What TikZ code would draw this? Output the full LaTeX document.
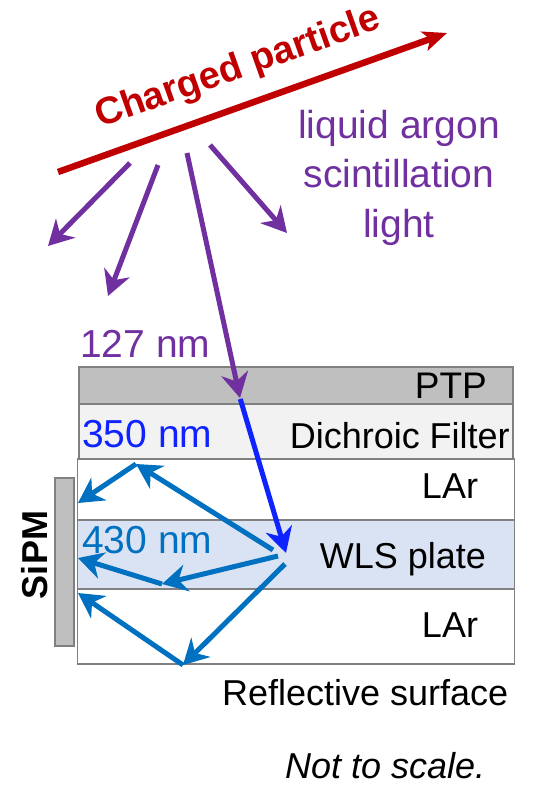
\documentclass[tikz,border=0pt]{standalone}
\usepackage{fontspec}
\setmainfont{Liberation Sans}
\usetikzlibrary{arrows.meta, positioning}
\definecolor{ptpgray}{RGB}{191,191,191}
\definecolor{edgegray}{RGB}{128,128,128}
\definecolor{filtergray}{RGB}{242,242,242}
\definecolor{wlsblue}{RGB}{218,227,243}
\definecolor{partred}{RGB}{192,0,0}
\definecolor{scintpurple}{RGB}{112,48,160}
\definecolor{uvblue}{RGB}{15,35,255}
\definecolor{visblue}{RGB}{0,112,192}

\begin{document}
\begin{tikzpicture}[
  x=1pt, y=-1pt,
  layer/.style   = {rectangle, draw=edgegray, line width=1.5pt, inner sep=0pt, outer sep=0pt},
  txt/.style     = {inner sep=0pt, font=\fontsize{36}{40}\selectfont, text=black},
  lbl/.style     = {inner sep=0pt, font=\fontsize{39}{49.5}\selectfont},
  prp/.style     = {-{Stealth[length=25pt, width=27pt, inset=8pt]}, line width=5pt, color=scintpurple},
  uvarr/.style   = {-{Stealth[length=25pt, width=27pt, inset=8pt]}, line width=5pt, color=uvblue},
  visarr/.style  = {-{Stealth[length=25pt, width=27pt, inset=8pt]}, line width=5pt, color=visblue},
  track/.style   = {-{Stealth[length=24pt, width=20pt, inset=6pt]}, line width=6.5pt, color=partred},
]
\useasboundingbox (0,0) rectangle (544,793);

%% --- Detector layers ---
\node[layer, fill=ptpgray,    minimum width=434pt, minimum height=37pt] (ptp) at (296,385.5) {};
\node[layer, fill=filtergray, minimum width=434pt, minimum height=55pt, below=0pt of ptp]  (dich) {};
\node[layer, fill=white,      minimum width=437pt, minimum height=61pt, below=0pt of dich] (lar1) {};
\node[layer, fill=wlsblue,    minimum width=437pt, minimum height=69pt, below=0pt of lar1] (wls)  {};
\node[layer, fill=white,      minimum width=437pt, minimum height=75pt, below=0pt of wls]  (lar2) {};

%% --- SiPM ---
\node[layer, fill=ptpgray, minimum width=19pt, minimum height=168pt] (sipm) at (64.5,562) {};
\node[txt, font=\fontsize{36}{40}\selectfont\bfseries, rotate=90, anchor=base] (sipmlbl) at (47,555) {SiPM};

%% --- Layer labels ---
\node[txt, anchor=base east, font=\fontsize{37}{40}\selectfont] (ptplbl) at (487,398) {PTP};
\node[txt, anchor=base east]  (dichlbl) at (510,448) {Dichroic Filter};
\node[txt, anchor=base]       (lar1lbl) at (450,498) {LAr};
\node[txt, anchor=base]       (wlslbl)  at (403,568) {WLS plate};
\node[txt, anchor=base]       (lar2lbl) at (450,637) {LAr};
\node[txt, anchor=base west]  (refl)    at (222,705) {Reflective surface};
\node[txt, anchor=base west, font=\fontsize{36}{40}\selectfont\itshape] (scale) at (285,778) {Not to scale.};

%% --- Wavelength labels ---
\node[lbl, text=scintpurple, anchor=base west] (nm127) at (80,357) {127 nm};
\node[lbl, text=uvblue,      anchor=base west] (nm350) at (82,447) {350 nm};
\node[lbl, text=visblue,     anchor=base west] (nm430) at (82,553) {430 nm};
\node[lbl, text=scintpurple, align=center, anchor=north] (scint) at (399,110)
  {liquid argon\\scintillation\\light};

%% --- Charged particle ---
\coordinate (trkA) at (58,172);
\coordinate (trkB) at (447,33);
\draw[track] (trkA) -- (trkB);
\node[inner sep=0pt, text=partred, font=\fontsize{38}{40}\selectfont\bfseries,
      rotate=19.5, anchor=base west] (partlbl) at (100,128) {Charged particle};

%% --- Scintillation photons ---
\coordinate (src1) at (130,163);  \coordinate (ray1) at (48,246);
\coordinate (src2) at (158,165);  \coordinate (ray2) at (108,296);
\coordinate (src3) at (187,153);  \coordinate (hit)  at (240,398);
\coordinate (src4) at (210,145);  \coordinate (ray4) at (287,233);
\foreach \s/\e in {src1/ray1, src2/ray2, src3/hit, src4/ray4} {
  \draw[prp] (\s) -- (\e);
}

%% --- Shifted photons ---
\coordinate (wlsin) at (286,553);
\draw[uvarr, shorten <=1pt] (hit) -- (wlsin);

\coordinate (wls1) at (273,550);  \coordinate (bnc1) at (136,464);  \coordinate (sip1) at (78,503);
\coordinate (wls2) at (278,556);  \coordinate (bnc2) at (162,584);  \coordinate (sip2) at (78,558);
\coordinate (wls3) at (285,564);  \coordinate (bnc3) at (183,665);  \coordinate (sip3) at (78,593);
\foreach \a/\b/\c in {wls1/bnc1/sip1, wls2/bnc2/sip2, wls3/bnc3/sip3} {
  \draw[visarr] (\a) -- (\b);
  \draw[visarr] (\b) -- (\c);
}

\end{tikzpicture}
\end{document}
